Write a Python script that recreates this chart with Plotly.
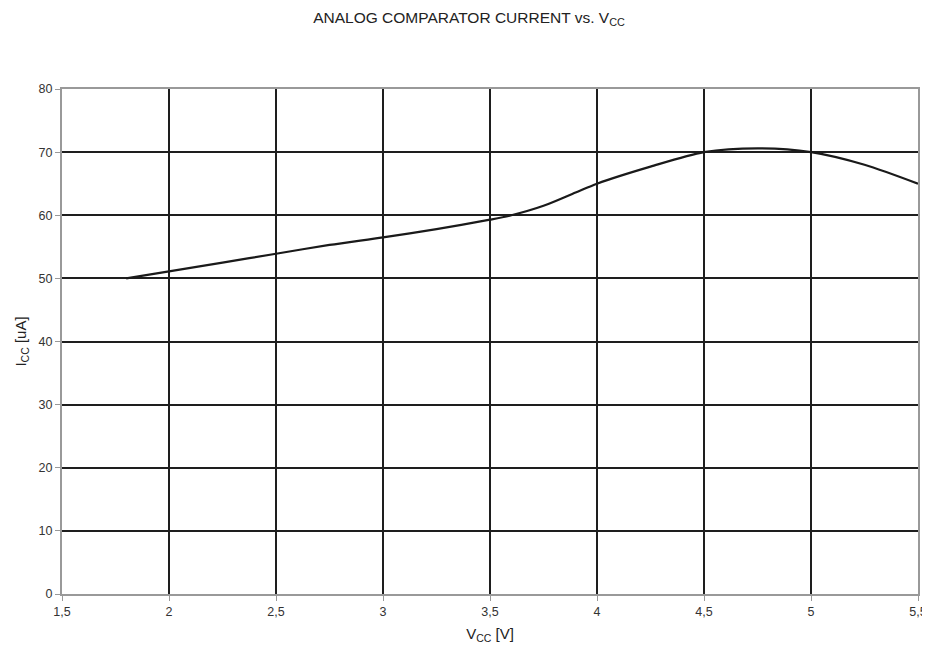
import plotly.graph_objects as go

# curve
vcc = [1.8, 2.0, 2.25, 2.5, 2.75, 3.0, 3.25, 3.5, 3.6, 3.75, 3.9, 4.0, 4.25, 4.5, 4.75, 5.0, 5.25, 5.5]
icc = [50.0, 51.1, 52.5, 53.9, 55.3, 56.5, 57.8, 59.3, 60.0, 61.5, 63.6, 65.0, 67.7, 70.0, 70.6, 70.0, 68.0, 65.0]

x_ticks = [1.5, 2, 2.5, 3, 3.5, 4, 4.5, 5, 5.5]
x_labels = ["1,5", "2", "2,5", "3", "3,5", "4", "4,5", "5", "5,5"]
y_ticks = [0, 10, 20, 30, 40, 50, 60, 70, 80]

font = "Liberation Sans, Arial, sans-serif"

fig = go.Figure(go.Scatter(x=vcc, y=icc, mode="lines",
                           line=dict(color="#1a1a1a", width=2.2, shape="spline", smoothing=0.8),
                           showlegend=False, hoverinfo="skip"))

# page body adds an 8px offset, so the figure is sized to the visible part of the window
fig.update_layout(
    width=922, height=641,
    paper_bgcolor="white", plot_bgcolor="white",
    margin=dict(l=54, r=12, t=81, b=55, autoexpand=False),
    font=dict(family=font, size=12.5, color="#333333"),
    title=dict(text="ANALOG COMPARATOR CURRENT vs. V<sub>CC</sub>",
               x=0.5, xanchor="center", y=1.0, yanchor="top", pad=dict(t=4),
               font=dict(family=font, size=15.5, color="#222222")),
)

fig.update_xaxes(range=[1.5, 5.5], tickvals=x_ticks, ticktext=x_labels,
                 showgrid=True, gridcolor="#1e1e1e", gridwidth=2,
                 showline=True, linecolor="#999999", linewidth=2, mirror=True,
                 ticks="outside", ticklen=5, tickcolor="#999999", tickwidth=1,
                 zeroline=False, automargin=False, ticklabeloverflow="allow",
                 title=dict(text="V<sub>CC</sub> [V]", font=dict(family=font, size=15, color="#222222"), standoff=10))

fig.update_yaxes(range=[0, 80], tickvals=y_ticks,
                 showgrid=True, gridcolor="#1e1e1e", gridwidth=2,
                 showline=True, linecolor="#999999", linewidth=2, mirror=True,
                 ticks="outside", ticklen=5, tickcolor="#999999", tickwidth=1,
                 zeroline=False, automargin=False,
                 title=dict(text="I<sub>CC</sub> [uA]", font=dict(family=font, size=15, color="#222222"), standoff=8))

fig.write_html("out.html")
